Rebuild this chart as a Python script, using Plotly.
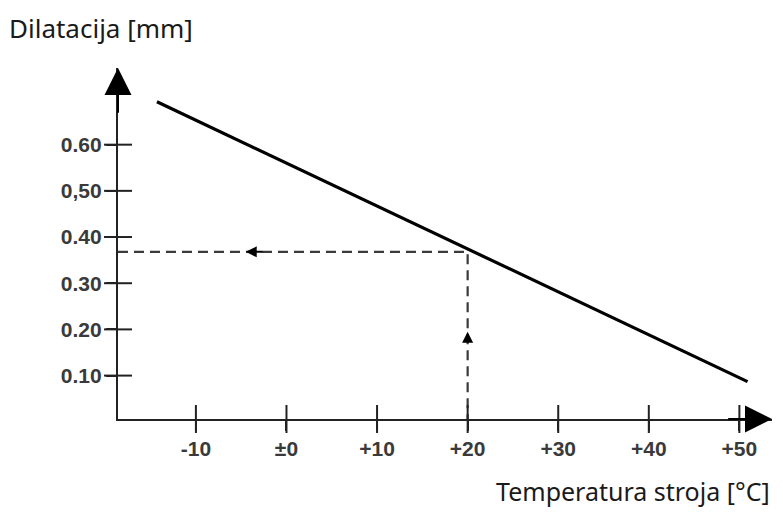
import plotly.graph_objects as go

# data
temp = [-14.3, 50.9]            # °C, ends of the dilatation line
dilat = [0.693, 0.087]          # mm
read_temp = 20                  # reading example
read_dil = 0.368
x_tick_vals = [-10, 0, 10, 20, 30, 40, 50]
x_tick_text = ["-10", "±0", "+10", "+20", "+30", "+40", "+50"]
y_tick_vals = [0.1, 0.2, 0.3, 0.4, 0.5, 0.6]
y_tick_text = ["0.10", "0.20", "0.30", "0.40", "0,50", "0.60"]

X_MIN, X_MAX = -18.6, 53.6
Y_MIN, Y_MAX = 0.006, 0.766

fig = go.Figure()

# dashed reading lines
fig.add_trace(go.Scatter(
    x=[X_MIN, read_temp, read_temp], y=[read_dil, read_dil, Y_MIN],
    mode="lines", line=dict(color="#3a3a3a", width=2.2, dash="10px,6px"),
    hoverinfo="skip", cliponaxis=False))

# main line
fig.add_trace(go.Scatter(
    x=temp, y=dilat, mode="lines",
    line=dict(color="#000000", width=3.2), cliponaxis=False))

# crossing tick marks
fig.add_trace(go.Scatter(
    x=x_tick_vals, y=[Y_MIN] * len(x_tick_vals), mode="markers",
    marker=dict(symbol="line-ns", size=20, line=dict(color="#222", width=2)),
    cliponaxis=False, hoverinfo="skip"))
fig.add_trace(go.Scatter(
    x=[X_MIN] * len(y_tick_vals), y=y_tick_vals, mode="markers",
    marker=dict(symbol="line-ew", size=20, line=dict(color="#222", width=2)),
    cliponaxis=False, hoverinfo="skip"))

arrow = dict(xref="x", yref="y", axref="x", ayref="y", showarrow=True,
             arrowhead=2, arrowwidth=2, arrowcolor="#000", text="")
# axis arrows
fig.add_annotation(x=X_MAX, y=Y_MIN, ax=X_MAX - 5, ay=Y_MIN, arrowsize=2.7, **arrow)
fig.add_annotation(x=X_MIN, y=Y_MAX, ax=X_MIN, ay=Y_MAX - 0.1, arrowsize=2.7, **arrow)
# reading arrows
fig.add_annotation(x=-4.5, y=read_dil, ax=-2.5, ay=read_dil, arrowsize=1.1, **arrow)
fig.add_annotation(x=read_temp, y=0.195, ax=read_temp, ay=0.17, arrowsize=1.1, **arrow)

# titles
fig.add_annotation(text="Dilatacija [mm]", xref="paper", yref="paper",
                   x=-0.17, y=1.114, xanchor="left", yanchor="middle",
                   showarrow=False, font=dict(family="Noto Sans", size=26, color="#1a1a1a"))
fig.add_annotation(text="Temperatura stroja [°C]", xref="paper", yref="paper",
                   x=1.0, y=-0.258, xanchor="right", yanchor="bottom",
                   showarrow=False, font=dict(family="Noto Sans", size=25, color="#1a1a1a"))

tick_font = dict(family="Liberation Sans", size=21, color="#3a3a3a", weight="bold")
fig.update_xaxes(range=[X_MIN, X_MAX], showgrid=False, zeroline=False,
                 showline=True, linecolor="#222", linewidth=2.2,
                 tickvals=x_tick_vals, ticktext=x_tick_text,
                 ticks="outside", ticklen=10, tickwidth=2, tickcolor="#222",
                 tickfont=tick_font)
fig.update_yaxes(range=[Y_MIN, Y_MAX], showgrid=False, zeroline=False,
                 showline=True, linecolor="#222", linewidth=2.2,
                 tickvals=y_tick_vals, ticktext=y_tick_text,
                 ticks="outside", ticklen=10, tickwidth=2, tickcolor="#222",
                 tickfont=tick_font)

fig.update_layout(width=783, height=512, showlegend=False,
                  margin=dict(l=118, r=11, t=68, b=93),
                  paper_bgcolor="white", plot_bgcolor="white")

fig.write_html("out.html", config={"displayModeBar": False},
               post_script="document.body.style.margin='0';")
